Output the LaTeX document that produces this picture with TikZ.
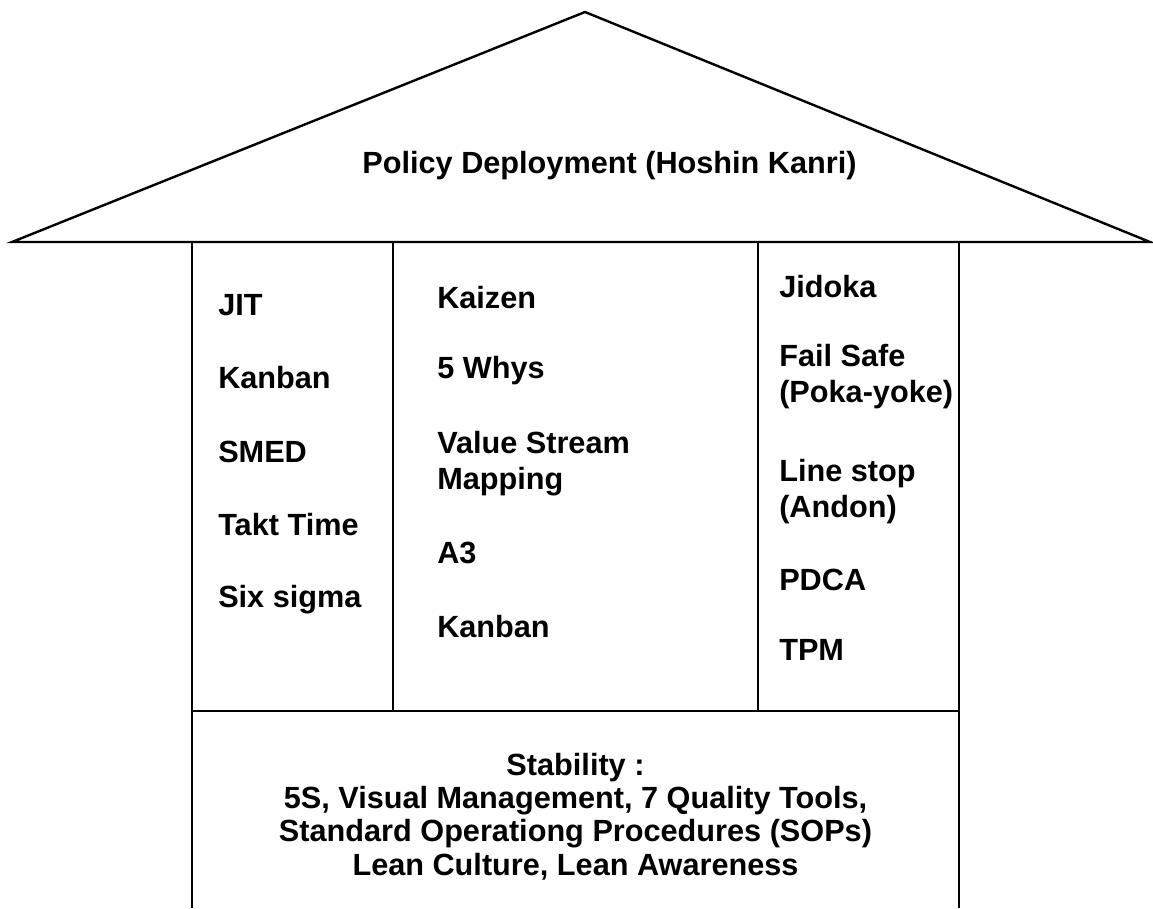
\documentclass[tikz,border=0pt]{standalone}
\usepackage{fontspec}
\setmainfont{Liberation Sans}
\usepackage{tikz}
\usetikzlibrary{positioning}
\tikzstyle{wall}=[line width=1.8pt, line join=miter]
\tikzstyle{item}=[inner sep=0pt, anchor=base west, align=left, font=\bfseries\fontsize{23}{26.5}\selectfont]
\tikzstyle{base}=[inner sep=0pt, anchor=base, align=center, font=\bfseries\fontsize{23}{25}\selectfont]

\begin{document}
\begin{tikzpicture}[x=0.75pt, y=-0.75pt]
\useasboundingbox (0,0) rectangle (1153,908);
\coordinate (apex) at (585,12);
\coordinate (eaveL) at (12,242);
\coordinate (eaveR) at (1150,242);
\coordinate (A0) at (192,242);
\coordinate (A1) at (393,242);
\coordinate (A2) at (758,242);
\coordinate (A3) at (959,242);
\coordinate (B0) at (192,711);
\coordinate (B1) at (393,711);
\coordinate (B2) at (758,711);
\coordinate (B3) at (959,711);
\coordinate (C0) at (192,908);
\coordinate (C3) at (959,908);

% roof
\draw[wall] (eaveL) -- (apex) -- (eaveR) -- cycle;
\node[base] (roof) at (609.5,173) {Policy Deployment (Hoshin Kanri)};

% pillars
\draw[wall] (A0) -- (C0);
\draw[wall] (A3) -- (C3);
\draw[wall] (A1) -- (B1);
\draw[wall] (A2) -- (B2);
\draw[wall] (B0) -- (B3);

% left pillar
\node[item] (jit) at (218,315) {JIT};
\node[item] (kanbanL) at (218,388) {Kanban};
\node[item] (smed) at (218,462) {SMED};
\node[item] (takt) at (218,535) {Takt Time};
\node[item] (sigma) at (218,607) {Six sigma};

% middle pillar (base = last line)
\node[item] (kaizen) at (437,308) {Kaizen};
\node[item] (whys) at (437,378) {5 Whys};
\node[item] (vsm) at (437,489) {Value Stream\\Mapping};
\node[item] (a3) at (437,563) {A3};
\node[item] (kanbanM) at (437,637) {Kanban};

% right pillar
\node[item] (jidoka) at (779,297) {Jidoka};
\node[item] (failsafe) at (779,402) {Fail Safe\\(Poka-yoke)};
\node[item] (linestop) at (779,517) {Line stop\\(Andon)};
\node[item] (pdca) at (779,590) {PDCA};
\node[item] (tpm) at (779,660) {TPM};

% foundation
\node[base] (stability) at (575.5,875) {Stability :\\5S, Visual Management, 7 Quality Tools,\\Standard Operationg Procedures (SOPs)\\Lean Culture, Lean Awareness};
\end{tikzpicture}
\end{document}
